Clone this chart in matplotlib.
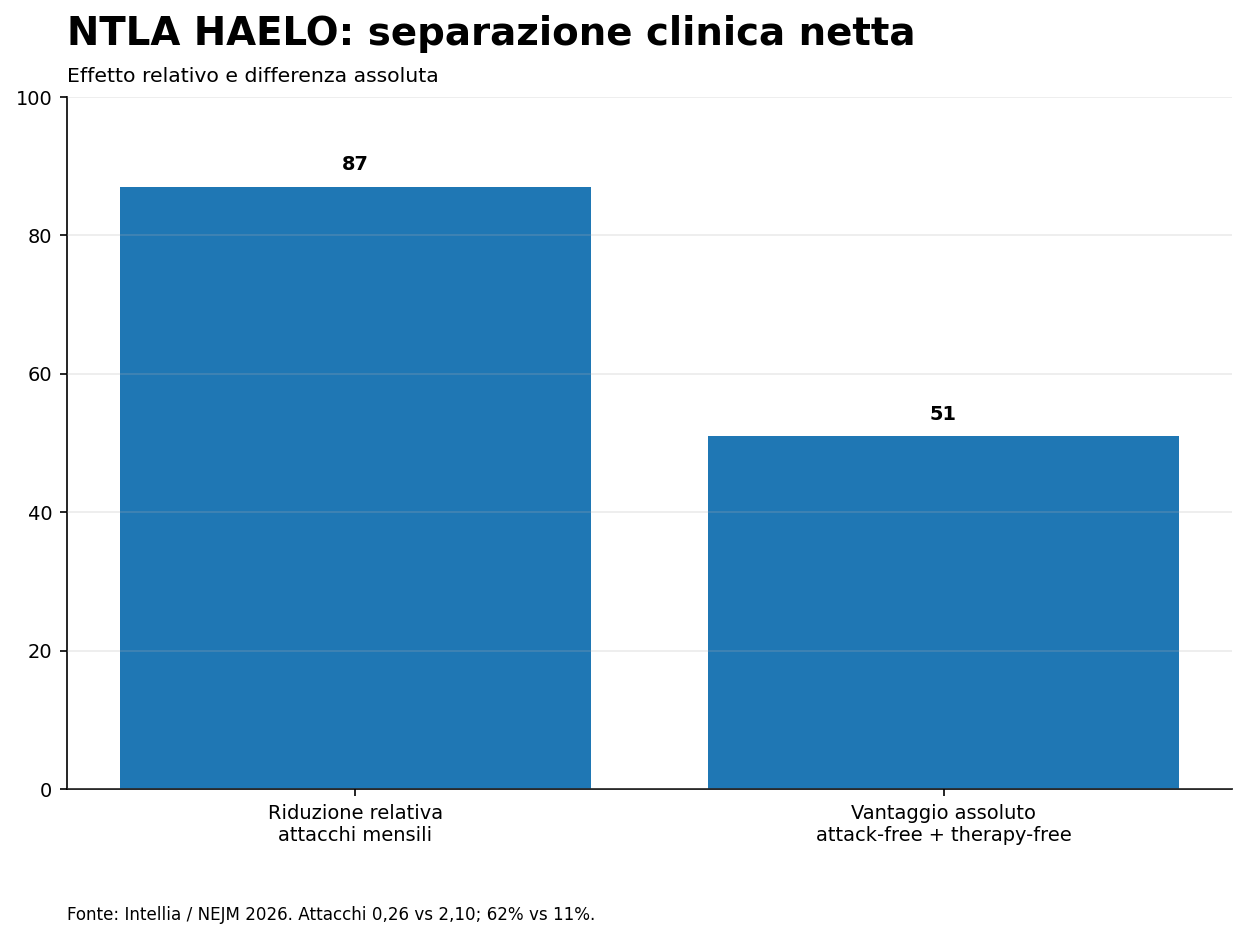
import matplotlib
matplotlib.use("Agg")
import matplotlib.pyplot as plt

# dati
categorie = ["Riduzione relativa\nattacchi mensili", "Vantaggio assoluto\nattack-free + therapy-free"]
valori = [87, 51]

titolo = "NTLA HAELO: separazione clinica netta"
sottotitolo = "Effetto relativo e differenza assoluta"
fonte = "Fonte: Intellia / NEJM 2026. Attacchi 0,26 vs 2,10; 62% vs 11%."

fig, ax = plt.subplots(figsize=(8.32, 6.2667), dpi=150)
fig.subplots_adjust(left=0.0537, right=0.987, top=0.8968, bottom=0.1606)

x = range(len(categorie))
bars = ax.bar(x, valori, width=0.8, color="#1f77b4")
ax.set_xticks(list(x))
ax.set_xticklabels(categorie)
ax.set_ylim(0, 100)
ax.tick_params(labelsize=9.3)

for b, v in zip(bars, valori):
    ax.annotate(f"{v}", (b.get_x() + b.get_width() / 2, v), xytext=(0, 6),
                textcoords="offset points", ha="center", va="bottom",
                fontsize=9.3, fontweight="bold")

ax.set_axisbelow(False)
ax.grid(axis="y", alpha=0.25)
ax.spines["top"].set_visible(False)
ax.spines["right"].set_visible(False)

fig.text(0.0537, 0.964, titolo, fontsize=18.6, fontweight="bold", ha="left", va="center")
fig.text(0.0537, 0.919, sottotitolo, fontsize=9.8, ha="left", va="center")
fig.text(0.0537, 0.027, fonte, fontsize=8.05, ha="left", va="center")

fig.savefig("out.png", dpi=150)
